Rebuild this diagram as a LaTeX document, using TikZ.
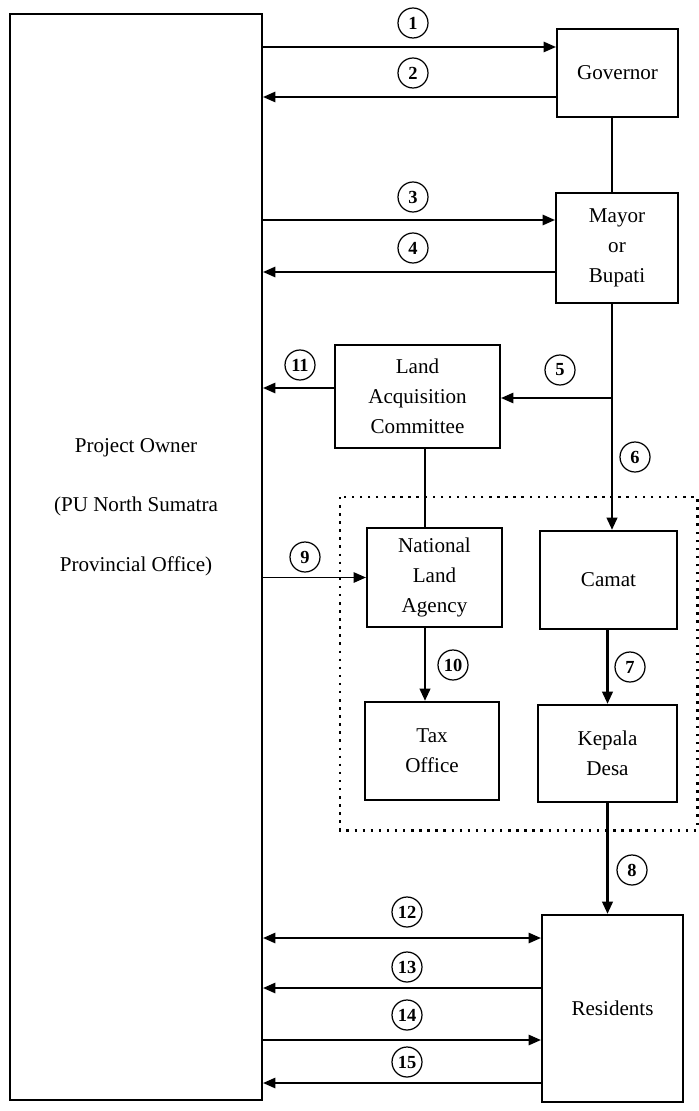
\documentclass[tikz,border=0pt]{standalone}
\usepackage{fontspec}
\setmainfont{Liberation Serif}
\usetikzlibrary{arrows.meta, positioning, calc}

\begin{document}
\begin{tikzpicture}[
    x=0.02cm, y=-0.02cm,
    box/.style={draw, line width=1.3pt, align=center, inner sep=0pt,
        font=\fontsize{12}{17}\selectfont},
    num/.style={draw, circle, line width=0.7pt, minimum size=0.6cm, inner sep=0pt,
        font=\fontsize{10.5}{10.5}\selectfont\bfseries},
    harr/.style={line width=0.7pt, -{Triangle[length=7pt, width=6pt]}},
    darr/.style={line width=0.7pt, {Triangle[length=7pt, width=6pt]}-{Triangle[length=7pt, width=6pt]}},
    varr/.style={line width=1.4pt, -{Triangle[length=7pt, width=6pt]}},
    link/.style={line width=1.4pt},
    dotbox/.style={line width=1.7pt, dash pattern=on 1.4pt off 3.2pt}
]
\useasboundingbox (0,0) rectangle (699,1111);

% Boxes
\node[box, minimum width=5.04cm, minimum height=21.72cm] (po) at (136,557) {};
\node[font=\fontsize{12}{34}\selectfont, align=center] (potext) at (136,507)
    {Project Owner\\(PU North Sumatra\\Provincial Office)};
\node[box, minimum width=2.42cm, minimum height=1.76cm] (gov) at (617.5,73) {Governor};
\node[box, minimum width=2.44cm, minimum height=2.2cm] (mayor) at (617,248) {Mayor\\or\\Bupati};
\node[box, minimum width=3.3cm, minimum height=2.06cm] (lac) at (417.5,396.5) {Land\\Acquisition\\Committee};
\node[box, minimum width=2.7cm, minimum height=1.98cm] (nla) at (434.5,577.5) {National\\Land\\Agency};
\node[box, minimum width=2.74cm, minimum height=1.96cm] (camat) at (608.5,580) {Camat};
\node[box, minimum width=2.68cm, minimum height=1.96cm] (tax) at (432,751) {Tax\\Office};
\node[box, minimum width=2.78cm, minimum height=1.94cm] (kepala) at (607.5,753.5) {Kepala\\Desa};
\node[box, minimum width=2.82cm, minimum height=3.74cm] (res) at (612.5,1008.5) {Residents};

% Dotted group
\draw[dotbox] (340,497) rectangle (697,830);

% Helper points
\coordinate (g1) at (gov.west |- 0,47);
\coordinate (g2) at (gov.west |- 0,97);
\coordinate (m3) at (mayor.west |- 0,220);
\coordinate (m4) at (mayor.west |- 0,272);
\coordinate (j5) at (612,398);
\coordinate (l11) at (lac.west |- 0,388);
\coordinate (lacx) at (425,0);
\coordinate (r12) at (res.west |- 0,938);
\coordinate (r13) at (res.west |- 0,988);
\coordinate (r14) at (res.west |- 0,1040);
\coordinate (r15) at (res.west |- 0,1083);

% Connectors
\draw[harr] (po.east |- g1) -- (g1);
\draw[harr] (g2) -- (po.east |- g2);
\draw[harr] (po.east |- m3) -- (m3);
\draw[harr] (m4) -- (po.east |- m4);
\draw[link] (gov.south -| j5) -- (mayor.north -| j5);
\draw[harr] (j5) -- (lac.east |- j5);
\draw[varr] (mayor.south -| j5) -- (camat.north -| j5);
\draw[varr] (camat.south -| kepala.north) -- (kepala.north);
\draw[varr] (kepala.south) -- (res.north -| kepala.south);
\draw[harr] (po.east |- nla.west) -- (nla.west);
\draw[link] (lac.south -| lacx) -- (nla.north -| lacx);
\draw[varr] (nla.south -| lacx) -- (tax.north -| lacx);
\draw[harr] (l11) -- (po.east |- l11);
\draw[darr] (po.east |- r12) -- (r12);
\draw[harr] (r13) -- (po.east |- r13);
\draw[harr] (po.east |- r14) -- (r14);
\draw[harr] (r15) -- (po.east |- r15);

% Step numbers
\node[num] (n1) at (413,23) {1};
\node[num] (n2) at (413,73) {2};
\node[num] (n3) at (413,197) {3};
\node[num] (n4) at (413,248) {4};
\node[num] (n5) at (560,370) {5};
\node[num] (n6) at (635,457) {6};
\node[num] (n7) at (630,667) {7};
\node[num] (n8) at (632,870) {8};
\node[num] (n9) at (305,557) {9};
\node[num] (n10) at (453,665) {10};
\node[num] (n11) at (300,365) {11};
\node[num] (n12) at (407,912) {12};
\node[num] (n13) at (407,967) {13};
\node[num] (n14) at (407,1015) {14};
\node[num] (n15) at (407,1062) {15};
\end{tikzpicture}
\end{document}
